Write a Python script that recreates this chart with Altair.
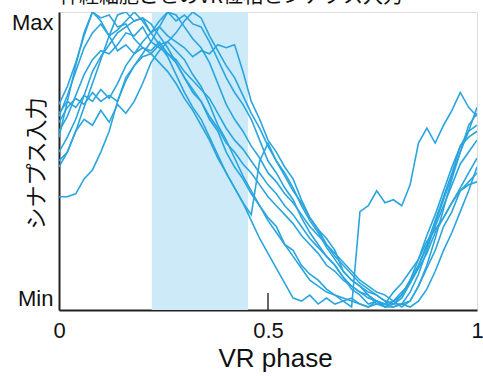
import altair as alt
import pandas as pd

# VR phase grid (shared by all traces), step 0.02
phase = [round(i * 0.02, 2) for i in range(51)]

# normalised synaptic input per neuron (0 = Min, 1 = Max)
n1 = [.38, .38, .39, .44, .47, .53, .60, .70, .78, .82, .85, .86, .89, .90, .87, .84, .79,
      .75, .69, .62, .57, .51, .45, .40, .35, .31, .28, .22, .20, .15, .12, .10, .07, .05,
      .04, .03, .02, .01, .03, .02, .06, .09, .13, .17, .23, .27, .31, .36, .40, .43, .46]
n2 = [.50, .53, .60, .68, .76, .84, .92, .99, 1.0, .97, .98, .96, .92, .88, .83, .78, .73,
      .70, .64, .60, .53, .48, .44, .39, .35, .30, .26, .22, .18, .14, .10, .08, .06, .05,
      .03, .04, .02, .01, .02, .02, .03, .05, .10, .15, .21, .28, .35, .42, .49, .53, .57]
n3 = [.48, .53, .60, .64, .62, .67, .63, .69, .66, .70, .76, .83, .87, .90, .93, .97, 1.0,
      .98, .92, .87, .82, .78, .72, .66, .61, .55, .50, .45, .40, .36, .31, .27, .22, .18,
      .15, .12, .09, .07, .05, .03, .02, .04, .09, .15, .22, .30, .38, .46, .55, .60, .62]
n4 = [.69, .75, .83, .92, 1.0, .98, .99, .95, .96, .91, .88, .86, .83, .80, .76, .71, .67,
      .62, .57, .51, .46, .41, .36, .30, .24, .19, .14, .09, .04, .03, .05, .02, .04, .02,
      .03, .01, .33, .35, .40, .36, .37, .35, .42, .56, .61, .56, .62, .67, .73, .68, .65]
n5 = [.65, .72, .80, .88, .93, .96, .92, .94, .97, 1.0, .97, .93, .95, .92, .90, .88, .85,
      .87, .86, .89, .88, .89, .80, .70, .64, .57, .53, .48, .44, .37, .31, .27, .24, .20,
      .13, .10, .08, .05, .02, .01, .02, .05, .10, .17, .25, .32, .40, .48, .55, .58, .60]
n6 = [.63, .68, .71, .69, .73, .70, .72, .70, .77, .82, .86, .90, .95, 1.0, .97, .99, .96,
      .95, .90, .84, .78, .73, .69, .64, .57, .50, .46, .41, .37, .31, .26, .22, .18, .15,
      .11, .08, .06, .05, .03, .02, .01, .02, .06, .12, .20, .29, .37, .45, .53, .60, .68]
n7 = [.60, .65, .72, .79, .84, .87, .86, .89, .93, .92, .95, .90, .88, .86, .83, .78, .74,
      .70, .65, .61, .56, .53, .49, .46, .42, .38, .35, .32, .29, .25, .22, .19, .15, .13,
      .10, .08, .06, .04, .03, .01, .03, .06, .09, .14, .19, .26, .31, .36, .41, .46, .51]
n8 = [.58, .70, .82, .93, 1.0, .97, .92, .87, .89, .86, .88, .87, .90, .86, .84, .80, .77,
      .74, .71, .66, .61, .57, .54, .50, .46, .42, .39, .35, .32, .28, .24, .21, .18, .15,
      .11, .07, .05, .02, .03, .01, .01, .02, .03, .08, .14, .20, .28, .33, .40, .42, .43]
n9 = [.66, .70, .68, .72, .70, .74, .71, .76, .82, .86, .90, .93, .97, 1.0, .99, .95, .91,
      .88, .83, .76, .69, .64, .60, .55, .51, .46, .43, .39, .36, .32, .28, .25, .22, .19,
      .16, .13, .10, .08, .06, .05, .03, .01, .03, .08, .15, .24, .34, .44, .53, .62, .66]
n10 = [.53, .58, .64, .72, .80, .85, .89, .93, .95, .97, .98, .93, .89, .85, .79, .73, .68,
       .64, .58, .52, .46, .41, .36, .32, .50, .56, .50, .46, .41, .35, .30, .26, .21, .17,
       .13, .10, .08, .06, .05, .03, .02, .02, .01, .03, .07, .13, .20, .26, .33, .40, .48]

neurons = [n1, n2, n3, n4, n5, n6, n7, n8, n9, n10]

shade_start = 0.222
shade_end = 0.452

rows = []
for k, ys in enumerate(neurons):
    for x, y in zip(phase, ys):
        rows.append({"neuron": f"n{k+1}", "phase": x, "input": y})
df = pd.DataFrame(rows)

W, H = 418, 298
LINE = "#2aa5de"
SANS = "Liberation Sans, Arial, sans-serif"
JP = "Noto Sans CJK JP"

xscale = alt.Scale(domain=[0, 1], nice=False, zero=False)
yscale = alt.Scale(domain=[0, 1], nice=False, zero=False)

xaxis = alt.Axis(values=[0, 0.5, 1], labelExpr="datum.value == 0 ? '0' : datum.value == 1 ? '1' : '0.5'",
                 ticks=False, tickSize=0, grid=False, labelFontSize=22, labelFont=SANS,
                 labelColor="#111", labelPadding=10, labelFlush=False,
                 domainColor="#222", domainWidth=2,
                 title="VR phase", titleFontSize=26, titleFont=SANS, titleFontWeight="normal",
                 titleColor="#111", titleX=216, titleY=56, titleBaseline="alphabetic",
                 titleAlign="center")
yaxis = alt.Axis(values=[0, 1], labelExpr="datum.value == 1 ? 'Max' : 'Min'",
                 ticks=False, tickSize=0, grid=False, labelFontSize=22, labelFont=SANS,
                 labelColor="#111", labelPadding=6, labelFlush=True,
                 domainColor="#222", domainWidth=2,
                 title="シナプス入力", titleFont=JP, titleFontSize=22, titleFontWeight="normal",
                 titleColor="#111", titleX=-23, titleY=151, titleAngle=-90,
                 titleAlign="center", titleBaseline="middle")

shade = alt.Chart(pd.DataFrame({"s": [shade_start], "e": [shade_end]})).mark_rect(
    color="#cceaf8").encode(
    x=alt.X("s:Q", scale=xscale, axis=xaxis),
    x2="e:Q",
    y=alt.value(0), y2=alt.value(H))

lines = alt.Chart(df).mark_line(color=LINE, strokeWidth=1.6, clip=True).encode(
    x=alt.X("phase:Q", scale=xscale, axis=xaxis),
    y=alt.Y("input:Q", scale=yscale, axis=yaxis),
    detail="neuron:N")

tick = alt.Chart(pd.DataFrame({"t": [0.5]})).mark_rule(color="#333", strokeWidth=1.5).encode(
    x=alt.X("t:Q", scale=xscale, axis=xaxis),
    y=alt.value(H - 17), y2=alt.value(H))

chart = alt.layer(shade, lines, tick).properties(
    width=W, height=H,
    title=alt.TitleParams(text="神経細胞ごとのVR位相とシナプス入力", anchor="start", frame="group",
                          fontSize=20, font=JP, fontWeight="normal", color="#111",
                          offset=4),
    autosize=alt.AutoSizeParams(type="none"),
    padding={"left": 59, "top": 12, "right": 6, "bottom": 66},
).configure_view(stroke="#333", strokeWidth=1.5).configure(background="white")

chart.save("out.html", embed_options={"renderer": "svg", "actions": False})
